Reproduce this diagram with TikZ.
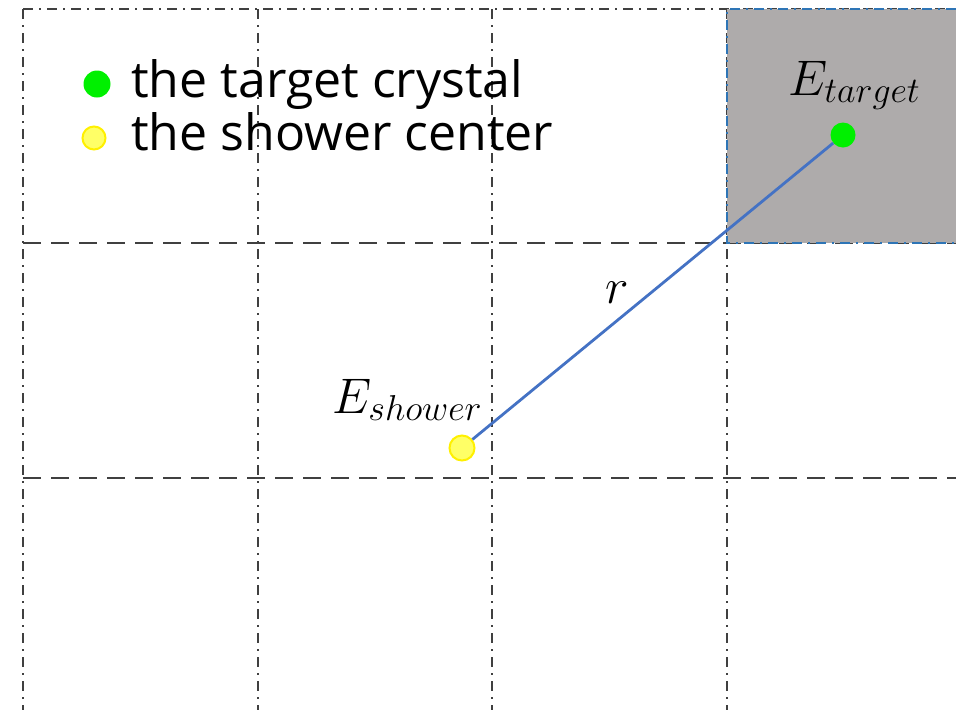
\documentclass[tikz,border=0pt]{standalone}
\usepackage{fix-cm}
\usepackage{fontspec}
\setmainfont{Open Sans}
\DeclareMathSizes{50}{50}{36}{26}
\usetikzlibrary{positioning}
\definecolor{gridgray}{RGB}{64,64,64}
\definecolor{cellgray}{RGB}{174,171,171}
\definecolor{borderblue}{RGB}{46,117,182}
\definecolor{linkblue}{RGB}{68,114,196}
\definecolor{dotgreen}{RGB}{0,240,0}
\definecolor{dotyellow}{RGB}{255,255,102}
\definecolor{ringyellow}{RGB}{255,240,0}

\begin{document}
\begin{tikzpicture}[x=1pt, y=-1pt,
    gridline/.style={gridgray, line width=2.2pt},
    dashdotline/.style={gridline, dash pattern=on 10pt off 6pt on 2pt off 6pt},
    dashline/.style={gridline, dash pattern=on 18pt off 10pt},
    targetdot/.style={circle, fill=dotgreen, minimum size=25pt, inner sep=0pt},
    showerdot/.style={circle, fill=dotyellow, draw=ringyellow, line width=2pt, minimum size=25pt, inner sep=0pt},
    legend/.style={font=\fontsize{50}{53}\selectfont, anchor=base west, inner sep=0pt},
    mathlabel/.style={font=\fontsize{50}{56}\selectfont, inner sep=0pt}]
  \useasboundingbox (0,0) rectangle (956,710);

  % crystal grid
  \foreach \gx in {23,258,492,727}
    \draw[dashdotline] (\gx,9) -- (\gx,710);
  \draw[dashdotline] (23,9) -- (956,9);
  \foreach \gy in {243,478}
    \draw[dashline] (23,\gy) -- (956,\gy);

  % target crystal cell
  \fill[cellgray] (727,9) rectangle (956,243);
  \draw[borderblue, line width=2.2pt, dash pattern=on 10pt off 6pt on 2pt off 6pt]
    (956,9) -- (727,9) -- (727,243) -- (956,243);

  % legend
  \node[targetdot, minimum size=27pt] (keytarget) at (97,84) {};
  \node[showerdot, minimum size=23pt] (keyshower) at (94,138) {};
  \node[legend] (keytargettext) at (131,97) {the target crystal};
  \node[legend] (keyshowertext) at (131,150) {the shower center};

  % shower and target
  \node[targetdot] (target) at (843,135) {};
  \node[showerdot] (shower) at (462,448) {};
  \draw[linkblue, line width=2.8pt] (shower) -- (target);

  \node[mathlabel, anchor=base west] (etarget) at (788,95) {$E_{target}$};
  \node[mathlabel, anchor=base west] (eshower) at (332,413) {$E_{shower}$};
  \node[mathlabel, anchor=base] (rlabel) at (617,303) {$r$};
\end{tikzpicture}
\end{document}
